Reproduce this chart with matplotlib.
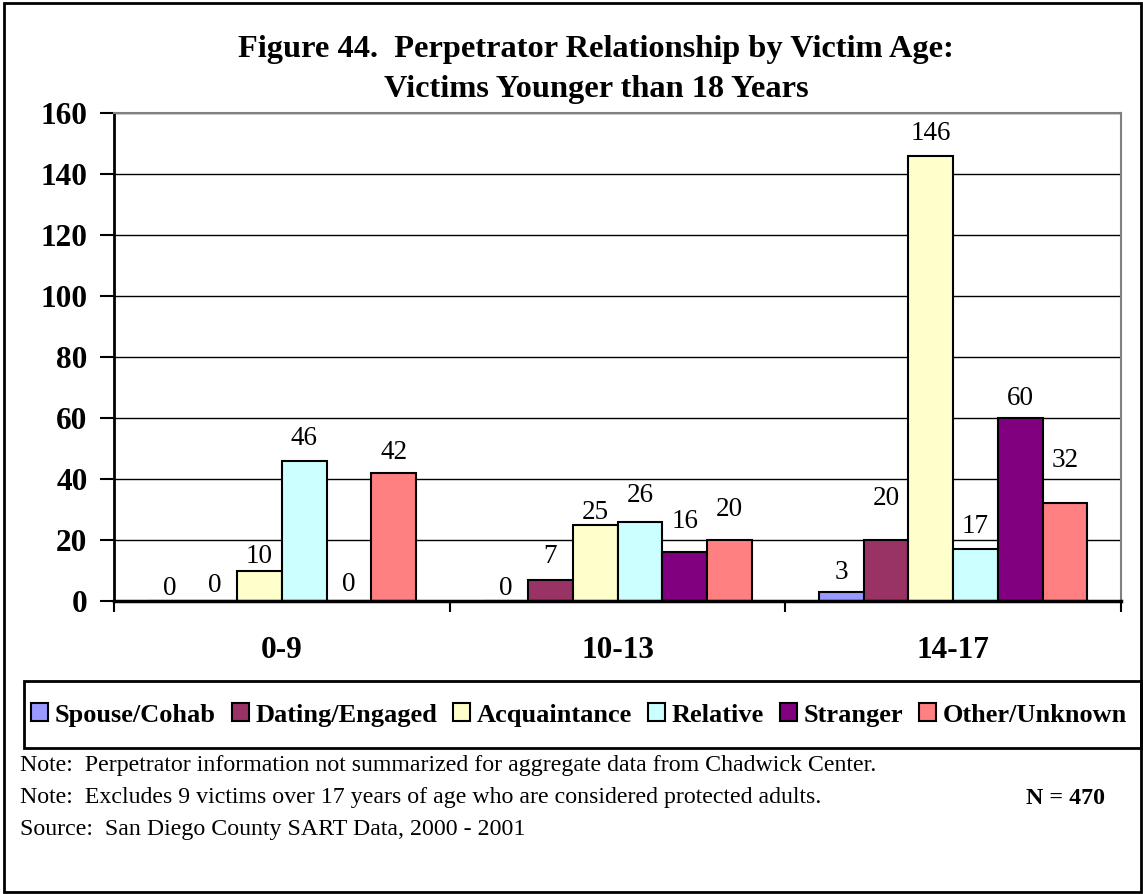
import matplotlib
matplotlib.use("Agg")
import matplotlib.pyplot as plt
from matplotlib.patches import Patch, Rectangle
import numpy as np

categories = ["0-9", "10-13", "14-17"]
series_names = ["Spouse/Cohab", "Dating/Engaged", "Acquaintance", "Relative", "Stranger", "Other/Unknown"]
spouse = [0, 0, 3]
dating = [0, 7, 20]
acquaintance = [10, 25, 146]
relative = [46, 26, 17]
stranger = [0, 16, 60]
other = [42, 20, 32]
series_values = [spouse, dating, acquaintance, relative, stranger, other]
yticks = [0, 20, 40, 60, 80, 100, 120, 140, 160]

colors = ["#9999FF", "#993366", "#FFFFCC", "#CCFFFF", "#800080", "#FF8080"]
# label offsets above bar tops (points), per series per group
label_offsets = [
    [9, 9, 14],
    [11, 17, 30],
    [10, 9, 16],
    [16, 19, 16],
    [12, 22, 14],
    [15, 22, 31],
]

plt.rcParams['font.family'] = ['Liberation Serif', 'DejaVu Serif']

W, H = 1143, 894
fig = plt.figure(figsize=(W / 100, H / 100), dpi=100)
ax = fig.add_axes([114/W, (H - 601)/H, (1121-114)/W, (601-113)/H])

x = np.arange(len(categories))
bw = 0.8 / 6
for i, (vals, c) in enumerate(zip(series_values, colors)):
    pos = x - 0.4 + bw * (i + 0.5)
    ax.bar(pos, vals, width=bw, color=c, edgecolor="black", linewidth=1.5, zorder=3)
    for j, (p, v) in enumerate(zip(pos, vals)):
        ax.annotate(str(v), (p, v), xytext=(0, label_offsets[i][j]), textcoords="offset points",
                    ha="center", va="center", fontsize=19.5, zorder=4)

ax.set_xlim(-0.5, 2.5)
ax.set_ylim(0, 160)
ax.set_yticks(yticks)
ax.set_yticklabels([str(t) for t in yticks], fontsize=22.5, fontweight="bold")
ax.yaxis.grid(True, color="black", linewidth=1.0, zorder=0)
ax.set_axisbelow(True)
ax.set_xticks([-0.5, 0.5, 1.5, 2.5])
ax.set_xticklabels([])
ax.set_xticks(x, minor=True)
ax.set_xticklabels(categories, minor=True, fontsize=22.5, fontweight="bold")
ax.tick_params(axis="x", which="major", length=8, width=1.5, direction="out")
ax.tick_params(axis="x", which="minor", length=0, pad=25)
ax.tick_params(axis="y", length=10, width=1.5, direction="out", pad=9)
ax.spines["left"].set_linewidth(2)
ax.spines["bottom"].set_linewidth(2.5)
ax.spines["bottom"].set_zorder(5)
ax.spines["top"].set_color("#808080")
ax.spines["right"].set_color("#808080")
ax.spines["top"].set_linewidth(1.5)
ax.spines["right"].set_linewidth(1.5)

fig.text(596/W, 1 - 49/H, "Figure 44.  Perpetrator Relationship by Victim Age:", ha="center", va="center",
         fontsize=23.3, fontweight="bold")
fig.text(596/W, 1 - 90/H, "Victims Younger than 18 Years", ha="center", va="center",
         fontsize=23.3, fontweight="bold")

# legend box
lx0, lx1, ly0, ly1 = 24, 1141, 681, 748
fig.patches.append(Rectangle((lx0/W, 1 - ly1/H), (lx1 - lx0)/W, (ly1 - ly0)/H, transform=fig.transFigure,
                             fill=False, edgecolor="black", linewidth=2))
handles = [Patch(facecolor=c, edgecolor="black", linewidth=1.5) for c in colors]
leg = fig.legend(handles, series_names, loc="center left", bbox_to_anchor=(31/W, 1 - 715/H),
                 ncol=6, frameon=False, handlelength=0.65, handleheight=0.65,
                 handletextpad=0.25, columnspacing=0.6, borderaxespad=0, borderpad=0,
                 prop={"family": "Liberation Serif", "weight": "bold", "size": 19})

note_fs = 17.2
fig.text(20/W, 1 - 766/H, "Note:  Perpetrator information not summarized for aggregate data from Chadwick Center.",
         ha="left", va="center", fontsize=note_fs)
fig.text(20/W, 1 - 798/H, "Note:  Excludes 9 victims over 17 years of age who are considered protected adults.",
         ha="left", va="center", fontsize=note_fs)
fig.text(1105/W, 1 - 798/H, "N = 470", ha="right", va="center", fontsize=note_fs, fontweight="bold")
fig.text(20/W, 1 - 830/H, "Source:  San Diego County SART Data, 2000 - 2001",
         ha="left", va="center", fontsize=note_fs)

fig.patches.append(Rectangle((4/W, 2/H), 1137/W, 889/H, transform=fig.transFigure,
                             fill=False, edgecolor="black", linewidth=2))

fig.savefig("out.png", dpi=100)
